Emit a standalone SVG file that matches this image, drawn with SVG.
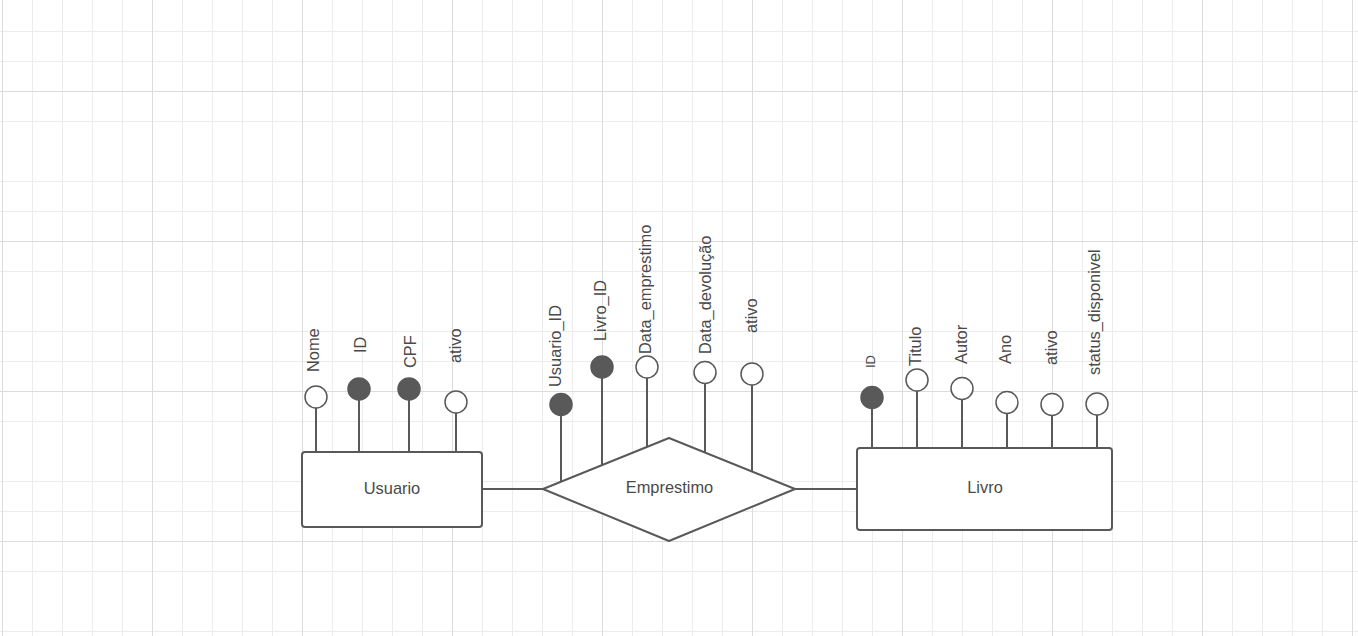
<svg xmlns="http://www.w3.org/2000/svg" width="1358" height="636" viewBox="0 0 1358 636">
  <defs>
    <pattern id="grid" patternUnits="userSpaceOnUse" x="2" y="1" width="150" height="150">
      <path d="M30.5 0V150M60.5 0V150M90.5 0V150M120.5 0V150M0 30.5H150M0 60.5H150M0 120.5H150" stroke="#ececec" stroke-width="1" fill="none"/>
      <path d="M0.5 0V150M0 90.5H150" stroke="#dcdcdc" stroke-width="1" fill="none"/>
    </pattern>
    <style>
      .shape { fill: #ffffff; stroke: #595959; stroke-width: 2; }
      .attr { fill: #ffffff; stroke: #595959; stroke-width: 1.5; }
      .key { fill: #595959; stroke: #595959; stroke-width: 1.5; }
      .link { stroke: #595959; stroke-width: 2; fill: none; }
      text { font-family: "Liberation Sans", Arial, sans-serif; font-size: 16.4px; fill: #4a4a4a; }
      .title { text-anchor: middle; }
      .small { font-size: 13px; }
    </style>
  </defs>

  <!-- background grid -->
  <rect width="1358" height="636" fill="#ffffff"/>
  <rect width="1358" height="636" fill="url(#grid)"/>

  <!-- connectors: relationship links and attribute stems -->
  <g id="connectors">
    <path class="link" d="M482 489H543M795 489H857"/>
    <path class="link" d="M316 408V452M359 400V452M409 400V452M456 413V452"/>
    <path class="link" d="M561 415V481.7M602 378V465M647 378V447M705 383.5V452.6M752 385V471.6"/>
    <path class="link" d="M872 408V448M917 391V448M962 399.5V448M1007 413.5V448M1052 415.5V448M1097 415V448"/>
  </g>

  <!-- entity: Usuario -->
  <g id="usuario">
    <rect class="shape" x="302" y="452" width="180" height="75" rx="3"/>
    <text class="title" x="392" y="494">Usuario</text>
  </g>
  <g id="usuario-nome"><circle class="attr" cx="316" cy="397" r="11"/><text transform="translate(319 372) rotate(-90)">Nome</text></g>
  <g id="usuario-id"><circle class="key" cx="359" cy="389" r="11"/><text transform="translate(366 353) rotate(-90)">ID</text></g>
  <g id="usuario-cpf"><circle class="key" cx="409" cy="389" r="11"/><text transform="translate(416 368) rotate(-90)">CPF</text></g>
  <g id="usuario-ativo"><circle class="attr" cx="456" cy="402" r="11"/><text transform="translate(461 363) rotate(-90)">ativo</text></g>

  <!-- relationship: Emprestimo -->
  <g id="emprestimo">
    <path class="shape" stroke-linejoin="round" d="M543 489L669 438L795 489L669 541Z"/>
    <text class="title" x="669.5" y="493">Emprestimo</text>
  </g>
  <g id="emprestimo-usuario-id"><circle class="key" cx="561" cy="404.5" r="11"/><text transform="translate(560.5 387) rotate(-90)">Usuario_ID</text></g>
  <g id="emprestimo-livro-id"><circle class="key" cx="602" cy="367" r="11"/><text transform="translate(605.5 341) rotate(-90)">Livro_ID</text></g>
  <g id="emprestimo-data-emprestimo"><circle class="attr" cx="647" cy="367" r="11"/><text transform="translate(650.5 354) rotate(-90)">Data_emprestimo</text></g>
  <g id="emprestimo-data-devolucao"><circle class="attr" cx="705" cy="372.5" r="11"/><text transform="translate(711 354) rotate(-90)">Data_devolução</text></g>
  <g id="emprestimo-ativo"><circle class="attr" cx="752" cy="374" r="11"/><text transform="translate(756.5 333) rotate(-90)">ativo</text></g>

  <!-- entity: Livro -->
  <g id="livro">
    <rect class="shape" x="857" y="448" width="255" height="82" rx="3"/>
    <text class="title" x="985" y="493">Livro</text>
  </g>
  <g id="livro-id"><circle class="key" cx="872" cy="397.5" r="11"/><text class="small" transform="translate(875 368) rotate(-90)">ID</text></g>
  <g id="livro-titulo"><circle class="attr" cx="917" cy="380" r="11"/><text transform="translate(921 366) rotate(-90)">Titulo</text></g>
  <g id="livro-autor"><circle class="attr" cx="962" cy="388.5" r="11"/><text transform="translate(966.5 364) rotate(-90)">Autor</text></g>
  <g id="livro-ano"><circle class="attr" cx="1007" cy="402.5" r="11"/><text transform="translate(1011 364) rotate(-90)">Ano</text></g>
  <g id="livro-ativo"><circle class="attr" cx="1052" cy="404.5" r="11"/><text transform="translate(1056.5 365) rotate(-90)">ativo</text></g>
  <g id="livro-status"><circle class="attr" cx="1097" cy="404" r="11"/><text transform="translate(1100 375) rotate(-90)">status_disponivel</text></g>
</svg>
